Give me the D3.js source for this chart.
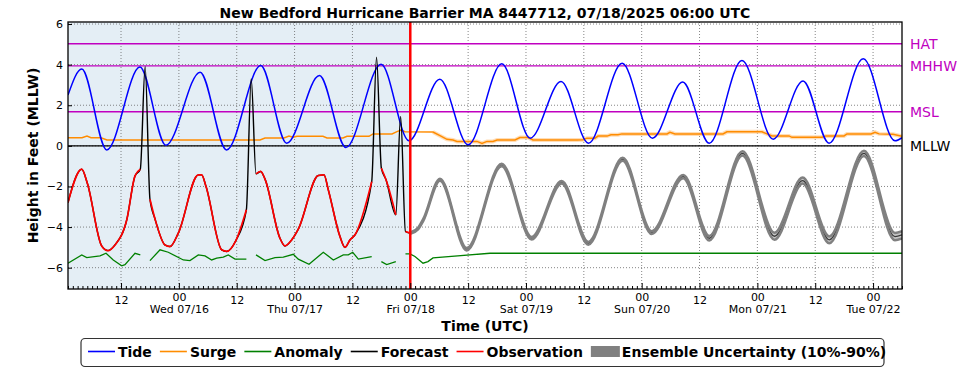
<!DOCTYPE html>
<html><head><meta charset="utf-8">
<script src="https://cdn.jsdelivr.net/npm/d3@7"></script>
<style>
body{margin:0;background:#fff;}
svg{display:block;font-family:"DejaVu Sans",sans-serif;}
</style></head><body>
<svg id="chart" width="969" height="370"></svg>
<script>
// ---------- data (hours since 2025-07-15 00:00 UTC, feet MLLW) ----------
const BASE = Date.UTC(2025, 6, 15, 0, 0);
const titleText = "New Bedford Hurricane Barrier MA 8447712, 07/18/2025 06:00 UTC";
const domainHours = [1, 174];
const obsEndHour = 72;
const yDomain = [-7.05, 6.1];
const yTicks = [-6, -4, -2, 0, 2, 4, 6];
const xTickHours = [12, 24, 36, 48, 60, 72, 84, 96, 108, 120, 132, 144, 156, 168];
const xTickTop = ["12","00","12","00","12","00","12","00","12","00","12","00","12","00"];
const xTickDate = ["","Wed 07/16","","Thu 07/17","","Fri 07/18","","Sat 07/19","","Sun 07/20","","Mon 07/21","","Tue 07/22"];
const datumNames = ["HAT", "MHHW", "MSL", "MLLW"];
const datumValues = [5.03, 3.94, 1.68, 0];

const tideHours = [1.0, 3.85, 9.04, 15.92, 21.31, 28.4, 33.89, 40.98, 46.37, 53.16, 58.65, 65.94, 71.73, 78.12, 84.0, 90.99, 96.88, 103.27, 108.96, 115.95, 122.24, 128.53, 134.02, 140.8, 147.29, 153.48, 158.87, 165.96, 172.55, 174.0];
const tideFt    = [2.5, 3.78, -0.2, 3.88, 0.03, 3.63, -0.2, 3.96, 0.13, 3.46, -0.08, 4.02, 0.25, 3.28, 0.05, 4.04, 0.38, 3.17, 0.13, 4.07, 0.38, 3.14, 0.13, 4.2, 0.33, 3.2, 0.13, 4.29, 0.25, 0.4];

const surgeHours = [1.0, 3.9, 4.94, 5.77, 7.85, 9.09, 40.83, 41.86, 45.8, 46.84, 47.67, 48.5, 53.89, 54.72, 58.04, 58.87, 63.44, 64.27, 68.21, 69.24, 70.07, 70.9, 76.71, 78.16, 79.61, 80.86, 81.69, 85.84, 86.88, 87.92, 89.16, 89.99, 93.72, 94.76, 96.42, 97.45, 106.58, 107.82, 108.65, 110.31, 110.94, 112.8, 113.63, 115.08, 115.91, 125.25, 125.87, 126.91, 136.86, 137.69, 144.95, 145.99, 147.03, 150.56, 151.18, 157.4, 158.23, 161.97, 162.59, 167.57, 168.4, 169.23, 172.13, 174.0];
const surgeFt    = [0.4, 0.4, 0.48, 0.4, 0.4, 0.29, 0.29, 0.39, 0.39, 0.48, 0.42, 0.47, 0.47, 0.39, 0.39, 0.47, 0.47, 0.59, 0.59, 0.7, 0.78, 0.7, 0.68, 0.5, 0.32, 0.29, 0.22, 0.22, 0.12, 0.22, 0.22, 0.29, 0.29, 0.41, 0.41, 0.29, 0.29, 0.3, 0.38, 0.38, 0.48, 0.48, 0.55, 0.55, 0.59, 0.59, 0.67, 0.59, 0.59, 0.69, 0.69, 0.59, 0.49, 0.49, 0.42, 0.42, 0.49, 0.49, 0.59, 0.59, 0.67, 0.59, 0.57, 0.47];

const anomalyHours = [1.0, 3.85, 4.89, 7.64, 8.89, 10.39, 12.14, 12.82, 14.9, 16, 17, 18, 20.09, 21.8, 24.92, 26.3, 28.03, 29.42, 30.8, 31.85, 33.21, 34.25, 35.65, 38, 39, 40, 41.87, 43.93, 45.66, 47.74, 48.77, 51.0, 53.96, 56.04, 58.11, 59.15, 60.06, 61.22, 64, 65, 66, 67.11, 69, 70, 71, 71.95, 72.97, 74.64, 75.67, 76.71, 88.53, 174.0];
const anomalyFt    = [-5.78, -5.37, -5.5, -5.42, -5.29, -5.62, -5.91, -5.85, -5.29, -5.37, null, -5.65, -5.12, -5.24, -5.62, -5.65, -5.37, -5.42, -5.62, -5.53, -5.48, -5.37, -5.58, -5.58, null, -5.37, -5.65, -5.5, -5.48, -5.34, -5.58, -5.83, -5.24, -5.62, -5.37, -5.37, -5.24, -5.58, -5.45, null, -5.7, -5.85, -5.7, null, -5.32, -5.32, -5.45, -5.78, -5.7, -5.52, -5.29, -5.29];

const obsHours = [1.0, 3.85, 5.01, 7.99, 9.3, 10.75, 13.18, 14.9, 16, 17, 18, 19.05, 21.11, 22.16, 23.88, 28.03, 28.73, 29.63, 32.88, 33.92, 35.85, 38, 39, 40, 40.97, 41.87, 44.97, 46.01, 47.4, 48.77, 52.92, 54.11, 55.0, 57.42, 58.46, 59.5, 60.54, 64, 65, 66, 66.97, 69, 70, 71, 72];
const obsFt    = [-2.79, -1.15, -1.84, -4.93, -5.16, -4.88, -3.65, -1.48, -1.15, null, -2.63, -3.6, -4.88, -4.96, -4.3, -1.43, -1.43, -2.0, -5.12, -5.2, -4.65, -3.15, null, -1.38, -1.26, -1.64, -4.55, -4.93, -4.63, -4.1, -1.46, -1.43, -2.17, -4.47, -5.0, -4.63, -4.38, -1.76, null, -1.1, -1.67, -3.4, null, -4.22, -4.3];

const forecastHours = [1.0, 3.85, 5.01, 7.99, 9.3, 10.75, 13.18, 14.9, 16, 17, 18, 19.05, 21.11, 22.16, 23.88, 28.03, 28.73, 29.63, 32.88, 33.92, 35.85, 38, 39, 40, 40.97, 41.87, 44.97, 46.01, 47.4, 48.77, 52.92, 54.11, 55.0, 57.42, 58.46, 59.5, 60.54, 64, 65, 66, 66.97, 69, 70, 71, 72, 73.66, 74.7, 78.16, 83.7, 90.96, 97.18, 103.41, 108.92, 116.06, 122.08, 128.63, 134.02, 140.91, 147.55, 153.39, 158.91, 166.11, 172.54, 174.0];
const forecastFt    = [-2.79, -1.15, -1.84, -4.93, -5.16, -4.88, -3.65, -1.48, -1.15, 3.9, -2.63, -3.6, -4.88, -4.96, -4.3, -1.43, -1.43, -2.0, -5.12, -5.2, -4.65, -3.15, 3.29, -1.38, -1.26, -1.64, -4.55, -4.93, -4.63, -4.1, -1.46, -1.43, -2.17, -4.47, -5.0, -4.63, -4.38, -1.76, 4.37, -1.1, -1.67, -3.4, 1.45, -4.22, -4.3, -4.06, -3.65, -1.67, -5.09, -0.94, -4.55, -1.79, -4.8, -0.66, -4.27, -1.51, -4.55, -0.37, -4.45, -1.71, -4.63, -0.37, -4.47, -4.38];

const ensHours  = [72, 73.66, 74.7, 78.16, 83.7, 90.96, 97.18, 103.41, 108.92, 116.06, 122.08, 128.63, 134.02, 140.91, 147.55, 153.39, 158.91, 166.11, 172.54, 174.0];
const ensLowFt  = [-4.33, -4.1, -3.7, -1.72, -5.15, -1.0, -4.61, -1.85, -4.87, -0.73, -4.34, -1.59, -4.66, -0.48, -4.62, -1.86, -4.8, -0.5, -4.65, -4.56];
const ensHighFt = [-4.27, -4.02, -3.6, -1.62, -5.03, -0.88, -4.49, -1.73, -4.73, -0.59, -4.2, -1.43, -4.44, -0.26, -4.28, -1.56, -4.46, -0.24, -4.29, -4.2];

const legendNames = ["Tide", "Surge", "Anomaly", "Forecast", "Observation", "Ensemble Uncertainty (10%-90%)"];

// ---------- drawing ----------
const colors = {tide:"#0000ff", surge:"#ff8c00", anomaly:"#008000", forecast:"#000000", obs:"#ff0000", ens:"#808080", datum:"#c000c0"};
const T = h => new Date(BASE + h * 3600e3);
const M = {left:68, right:902, top:22, bottom:289};

const svg = d3.select("#chart");
const x = d3.scaleUtc().domain(domainHours.map(T)).range([M.left, M.right]);
const y = d3.scaleLinear().domain(yDomain).range([M.bottom, M.top]);

const zip = (hs, vs) => hs.map((h, i) => ({t: T(h), h: h, v: vs[i]}));
const tide = zip(tideHours, tideFt);
const surge = zip(surgeHours, surgeFt);
const anomaly = zip(anomalyHours, anomalyFt);
const obs = zip(obsHours, obsFt);
const fc = zip(forecastHours, forecastFt);
const ens = ensHours.map((h, i) => ({t: T(h), lo: ensLowFt[i], hi: ensHighFt[i]}));

svg.append("defs").append("clipPath").attr("id", "clip")
  .append("rect").attr("x", M.left).attr("y", M.top).attr("width", M.right - M.left).attr("height", M.bottom - M.top);

// observed-period background
svg.append("rect").attr("x", M.left).attr("y", M.top)
  .attr("width", x(T(obsEndHour)) - M.left).attr("height", M.bottom - M.top)
  .attr("fill", "#e4eef5");

// grid
const grid = svg.append("g").attr("stroke", "#666").attr("stroke-width", 0.8).attr("stroke-dasharray", "1,2");
grid.selectAll("line.gx").data(xTickHours).join("line")
  .attr("x1", d => x(T(d))).attr("x2", d => x(T(d))).attr("y1", M.top).attr("y2", M.bottom);
grid.selectAll("line.gy").data(yTicks).join("line")
  .attr("x1", M.left).attr("x2", M.right).attr("y1", d => y(d)).attr("y2", d => y(d));

// datum lines
svg.append("g").selectAll("line").data(datumValues).join("line")
  .attr("x1", M.left).attr("x2", M.right).attr("y1", d => y(d)).attr("y2", d => y(d))
  .attr("stroke", (d, i) => datumNames[i] === "MLLW" ? "#000" : colors.datum).attr("stroke-width", 1.4);
svg.append("g").selectAll("text").data(datumValues).join("text")
  .attr("x", 910).attr("y", d => y(d)).attr("dy", "0.36em")
  .attr("font-size", 14).attr("fill", (d, i) => datumNames[i] === "MLLW" ? "#000" : colors.datum)
  .text((d, i) => datumNames[i]);

const plot = svg.append("g").attr("clip-path", "url(#clip)");
const lineLin = d3.line().defined(d => d.v != null).x(d => x(d.t)).y(d => y(d.v));
const lineMono = d3.line().defined(d => d.v != null).x(d => x(d.t)).y(d => y(d.v)).curve(d3.curveMonotoneX);

plot.append("path").datum(anomaly).attr("d", lineLin).attr("fill", "none").attr("stroke", colors.anomaly).attr("stroke-width", 1.3);
plot.append("path").datum(surge.filter(d => d.h >= obsEndHour - 1)).attr("d", lineLin).attr("fill", "none")
  .attr("stroke", "#ffcf99").attr("stroke-width", 4).attr("opacity", 0.7);
plot.append("path").datum(surge).attr("d", lineLin).attr("fill", "none").attr("stroke", colors.surge).attr("stroke-width", 1.5);
plot.append("path").datum(tide).attr("d", lineMono).attr("fill", "none").attr("stroke", colors.tide).attr("stroke-width", 1.5);
plot.append("path").datum(fc).attr("d", lineMono).attr("fill", "none").attr("stroke", colors.forecast).attr("stroke-width", 1.4);

// ensemble band
const area = d3.area().x(d => x(d.t)).y0(d => y(d.lo)).y1(d => y(d.hi)).curve(d3.curveMonotoneX);
plot.append("path").datum(ens).attr("d", area).attr("fill", colors.ens).attr("opacity", 0.45);
const lo = d3.line().x(d => x(d.t)).y(d => y(d.lo)).curve(d3.curveMonotoneX);
const hi = d3.line().x(d => x(d.t)).y(d => y(d.hi)).curve(d3.curveMonotoneX);
plot.append("path").datum(ens).attr("d", lo).attr("fill", "none").attr("stroke", colors.ens).attr("stroke-width", 2.5);
plot.append("path").datum(ens).attr("d", hi).attr("fill", "none").attr("stroke", colors.ens).attr("stroke-width", 2.5);

plot.append("path").datum(obs).attr("d", lineMono).attr("fill", "none").attr("stroke", colors.obs).attr("stroke-width", 1.7);

// now line
svg.append("line").attr("x1", x(T(obsEndHour))).attr("x2", x(T(obsEndHour)))
  .attr("y1", M.top).attr("y2", M.bottom).attr("stroke", "#ff0000").attr("stroke-width", 2.5);

// frame
svg.append("rect").attr("x", M.left).attr("y", M.top).attr("width", M.right - M.left).attr("height", M.bottom - M.top)
  .attr("fill", "none").attr("stroke", "#000").attr("stroke-width", 1.3);

// axes
const minorHours = d3.range(Math.ceil(domainHours[0]), domainHours[1] + 1).filter(h => h % 12 !== 0);
svg.append("g").attr("transform", `translate(0,${M.bottom})`)
  .call(d3.axisBottom(x).tickValues(minorHours.map(T)).tickSizeInner(-3).tickSizeOuter(0).tickFormat(""))
  .call(g => g.select(".domain").remove());
const gx = svg.append("g").attr("transform", `translate(0,${M.bottom})`)
  .call(d3.axisBottom(x).tickValues(xTickHours.map(T)).tickSizeInner(-6).tickSizeOuter(0).tickPadding(7)
    .tickFormat((d, i) => xTickTop[i]))
  .call(g => g.select(".domain").remove());
gx.selectAll(".tick text").attr("font-family", "DejaVu Sans").attr("font-size", 11).attr("fill", "#000")
  .each(function(d, i) {
    const el = d3.select(this);
    el.text(null);
    const first = el.append("tspan").attr("x", 0).text(xTickTop[i]);
    if (xTickDate[i]) {
      first.attr("dy", 4.8);
      el.append("tspan").attr("x", 0).attr("dy", "1.15em").text(xTickDate[i]);
    }
  });
const gy = svg.append("g").attr("transform", `translate(${M.left},0)`)
  .call(d3.axisLeft(y).tickValues(yTicks).tickSizeInner(-4).tickSizeOuter(0).tickPadding(5))
  .call(g => g.select(".domain").remove());
gy.selectAll(".tick text").attr("font-family", "DejaVu Sans").attr("font-size", 11).attr("fill", "#000");

// titles
svg.append("text").attr("x", (M.left + M.right) / 2).attr("y", 18).attr("text-anchor", "middle")
  .attr("font-weight", "bold").attr("font-size", 14).text(titleText);
svg.append("text").attr("x", (M.left + M.right) / 2).attr("y", 331).attr("text-anchor", "middle")
  .attr("font-weight", "bold").attr("font-size", 14).text("Time (UTC)");
svg.append("text").attr("transform", `translate(38,${(M.top + M.bottom) / 2}) rotate(-90)`).attr("text-anchor", "middle")
  .attr("font-weight", "bold").attr("font-size", 14).text("Height in Feet (MLLW)");

// legend
const leg = svg.append("g");
leg.append("rect").attr("x", 81).attr("y", 338.5).attr("width", 803).attr("height", 28).attr("rx", 4)
  .attr("fill", "#fff").attr("stroke", "#333").attr("stroke-width", 1.2);
const legColors = [colors.tide, colors.surge, colors.anomaly, colors.forecast, colors.obs, colors.ens];
let lx = 88;
legendNames.forEach((name, i) => {
  if (i < 5) {
    leg.append("line").attr("x1", lx).attr("x2", lx + 27).attr("y1", 351.5).attr("y2", 351.5)
      .attr("stroke", legColors[i]).attr("stroke-width", 1.6);
  } else {
    leg.append("rect").attr("x", lx).attr("y", 346).attr("width", 29).attr("height", 11).attr("fill", legColors[i]);
  }
  const tx = leg.append("text").attr("x", lx + (i < 5 ? 30 : 31)).attr("y", 356.5)
    .attr("font-weight", "bold").attr("font-size", 14).text(name);
  lx = lx + (i < 5 ? 30 : 31) + tx.node().getComputedTextLength() + 8;
});
</script>
</body></html>
